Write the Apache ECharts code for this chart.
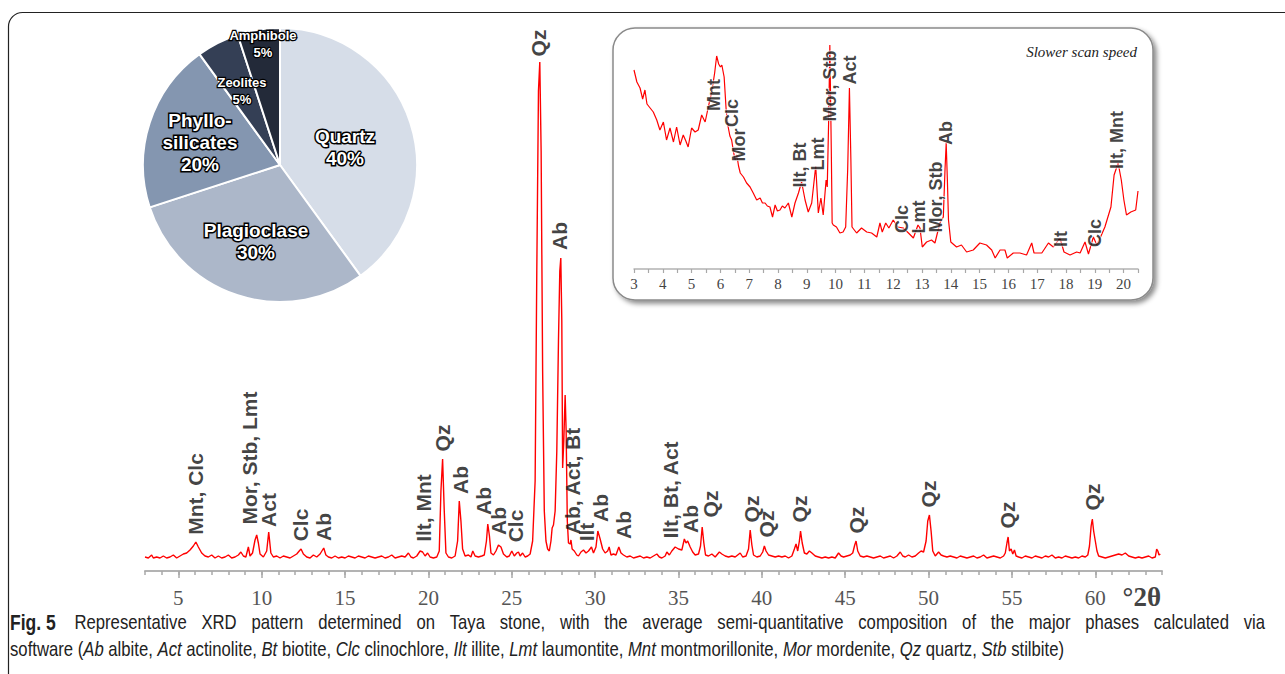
<!DOCTYPE html>
<html>
<head>
<meta charset="utf-8">
<script src="https://cdn.jsdelivr.net/npm/echarts@6/dist/echarts.min.js"></script>
<style>
html,body{margin:0;padding:0;background:#fff;}
#c{width:1285px;height:674px;}
</style>
</head>
<body>
<div id="c"></div>
<script>
// ---------------- DATA ----------------
const pieNames = ['Quartz', 'Plagioclase', 'Phyllo-\nsilicates', 'Zeolites', 'Amphibole'];
const pieValues = [40, 30, 20, 5, 5];

// main pattern: [2theta, intensity (a.u.)]
const mainPattern = [
[3.0,14],[3.2,13],[3.4,16],[3.5,13],[3.7,14],[3.9,13],[4.1,15],[4.3,13],[4.5,14],[4.7,16],[4.9,13],[5.1,15],[5.3,17],[5.5,18],[5.7,21],[5.9,25],[6.05,29],[6.2,24],[6.4,18],[6.6,15],[6.8,14],[7.0,16],[7.2,13],[7.4,15],[7.6,13],[7.8,14],[8.0,16],[8.2,13],[8.4,14],[8.6,16],[8.75,19],[8.9,15],[9.05,14],[9.2,24],[9.3,15],[9.45,18],[9.6,31],[9.7,36],[9.8,28],[9.9,17],[10.1,14],[10.3,20],[10.42,39],[10.55,18],[10.7,14],[10.9,15],[11.1,13],[11.3,15],[11.5,14],[11.7,13],[11.9,15],[12.1,17],[12.25,20],[12.36,22],[12.5,17],[12.7,14],[12.9,13],[13.1,16],[13.3,14],[13.5,17],[13.72,23],[13.85,16],[14.0,14],[14.2,13],[14.4,15],[14.6,13],[14.8,14],[15.0,13],[15.2,15],[15.4,14],[15.6,13],[15.8,15],[16.0,14],[16.2,13],[16.4,15],[16.6,14],[16.8,13],[17.0,14],[17.2,15],[17.4,13],[17.6,14],[17.8,16],[18.0,13],[18.2,14],[18.4,15],[18.6,14],[18.8,18],[18.95,14],[19.1,13],[19.3,15],[19.5,20],[19.65,19],[19.8,15],[19.95,18],[20.1,14],[20.3,13],[20.5,14],[20.65,20],[20.75,80],[20.85,112],[20.95,60],[21.05,18],[21.2,14],[21.4,13],[21.6,15],[21.75,30],[21.85,70],[21.95,50],[22.05,22],[22.2,15],[22.4,16],[22.55,14],[22.66,20],[22.8,15],[23.0,14],[23.2,15],[23.35,16],[23.48,30],[23.56,47],[23.66,35],[23.75,18],[23.9,16],[24.05,20],[24.2,26],[24.35,24],[24.5,17],[24.7,14],[24.85,15],[25.0,20],[25.15,15],[25.3,18],[25.4,19],[25.5,15],[25.65,18],[25.8,14],[25.95,15],[26.1,17],[26.25,30],[26.4,90],[26.5,300],[26.6,480],[26.68,509],[26.76,420],[26.85,200],[26.95,60],[27.05,30],[27.15,22],[27.25,20],[27.35,30],[27.42,43],[27.5,46],[27.6,60],[27.7,120],[27.8,230],[27.88,300],[27.94,313],[28.0,250],[28.05,103],[28.12,130],[28.2,176],[28.26,140],[28.33,50],[28.4,28],[28.5,27],[28.55,31],[28.62,22],[28.75,20],[28.9,16],[29.0,15],[29.15,19],[29.3,21],[29.45,18],[29.6,20],[29.78,24],[29.9,18],[30.05,24],[30.16,40],[30.3,32],[30.45,22],[30.6,18],[30.75,20],[30.84,24],[30.95,16],[31.1,17],[31.25,16],[31.42,24],[31.55,18],[31.7,16],[31.9,14],[32.1,15],[32.3,13],[32.5,14],[32.7,15],[32.9,13],[33.1,14],[33.3,13],[33.5,15],[33.7,17],[33.85,14],[34.0,13],[34.2,15],[34.3,19],[34.45,16],[34.6,20],[34.8,24],[35.0,22],[35.2,21],[35.35,32],[35.45,28],[35.55,30],[35.7,24],[35.85,19],[36.0,16],[36.2,17],[36.32,25],[36.42,44],[36.52,28],[36.62,16],[36.8,15],[37.0,17],[37.2,14],[37.45,19],[37.6,17],[37.8,15],[38.0,14],[38.2,15],[38.4,14],[38.7,18],[38.85,14],[39.05,15],[39.2,22],[39.3,41],[39.4,26],[39.5,16],[39.7,14],[39.9,15],[40.05,19],[40.15,25],[40.25,20],[40.4,16],[40.6,15],[40.8,14],[41.0,15],[41.2,14],[41.4,15],[41.6,13],[41.8,15],[41.95,22],[42.05,27],[42.15,20],[42.25,30],[42.32,40],[42.42,28],[42.55,18],[42.7,17],[42.85,20],[43.0,18],[43.2,15],[43.4,14],[43.6,13],[43.8,14],[44.0,13],[44.2,14],[44.4,13],[44.6,18],[44.75,15],[44.9,14],[45.1,15],[45.3,16],[45.45,18],[45.57,26],[45.65,30],[45.75,20],[45.9,15],[46.1,14],[46.3,15],[46.5,14],[46.7,13],[46.9,14],[47.1,15],[47.3,13],[47.5,14],[47.7,15],[47.9,13],[48.1,15],[48.3,19],[48.45,15],[48.6,14],[48.8,16],[49.0,14],[49.2,15],[49.4,18],[49.55,20],[49.7,19],[49.85,30],[49.95,50],[50.05,56],[50.15,40],[50.25,20],[50.4,15],[50.6,19],[50.75,16],[50.9,15],[51.1,14],[51.3,15],[51.5,14],[51.7,13],[51.9,15],[52.1,14],[52.3,13],[52.5,14],[52.7,15],[52.9,13],[53.1,14],[53.3,16],[53.5,13],[53.7,14],[53.9,15],[54.1,14],[54.3,13],[54.5,15],[54.6,18],[54.7,28],[54.77,34],[54.85,20],[54.95,22],[55.05,17],[55.15,21],[55.25,15],[55.4,14],[55.6,13],[55.8,15],[56.0,14],[56.2,13],[56.4,15],[56.6,14],[56.8,13],[57.0,15],[57.2,14],[57.4,16],[57.6,13],[57.8,14],[58.0,13],[58.2,15],[58.4,14],[58.6,13],[58.8,14],[59.0,13],[59.2,15],[59.4,14],[59.55,16],[59.65,25],[59.75,45],[59.82,52],[59.9,40],[60.0,30],[60.1,20],[60.2,15],[60.4,14],[60.6,13],[60.8,14],[61.0,15],[61.2,16],[61.4,17],[61.6,16],[61.8,18],[62.0,15],[62.2,14],[62.4,13],[62.6,14],[62.8,13],[63.0,14],[63.2,15],[63.4,13],[63.6,14],[63.68,22],[63.75,20],[63.82,16],[63.9,17]
];

// inset pattern (slower scan speed): [2theta, intensity (a.u.)]
const insetPattern = [
[3.0,199],[3.1,187],[3.21,181],[3.3,170],[3.38,179],[3.45,165],[3.56,161],[3.67,157],[3.79,149],[3.9,139],[4.02,147],[4.13,129],[4.25,141],[4.37,127],[4.48,142],[4.6,124],[4.71,134],[4.8,128],[4.88,122],[5.0,141],[5.12,137],[5.23,139],[5.35,154],[5.47,147],[5.58,162],[5.7,177],[5.8,196],[5.87,213],[5.94,205],[6.0,202],[6.05,204],[6.13,192],[6.2,159],[6.27,142],[6.33,133],[6.39,129],[6.45,118],[6.51,109],[6.57,114],[6.63,103],[6.69,96],[6.8,92],[6.91,86],[7.03,82],[7.14,76],[7.26,69],[7.38,71],[7.46,66],[7.55,66],[7.63,63],[7.72,62],[7.81,52],[7.9,64],[7.98,58],[8.07,59],[8.15,63],[8.24,61],[8.36,66],[8.48,52],[8.59,66],[8.71,76],[8.82,87],[8.94,69],[9.05,57],[9.17,66],[9.31,103],[9.4,56],[9.49,71],[9.57,54],[9.67,89],[9.71,82],[9.76,150],[9.8,224],[9.85,120],[9.88,46],[9.92,44],[10.03,42],[10.15,36],[10.26,37],[10.35,42],[10.42,100],[10.48,181],[10.53,110],[10.57,42],[10.73,36],[10.9,41],[11.08,37],[11.25,36],[11.43,32],[11.54,46],[11.62,37],[11.74,46],[11.85,41],[12.0,49],[12.16,42],[12.35,41],[12.53,36],[12.7,31],[12.86,44],[12.93,41],[13.01,22],[13.16,27],[13.33,29],[13.45,26],[13.62,46],[13.74,52],[13.8,100],[13.84,126],[13.88,90],[13.92,49],[14.0,27],[14.2,22],[14.37,24],[14.55,17],[14.78,19],[15.01,26],[15.24,24],[15.42,19],[15.54,11],[15.71,19],[15.88,19],[15.96,11],[16.17,16],[16.4,16],[16.63,14],[16.81,26],[16.89,16],[17.16,16],[17.39,26],[17.56,22],[17.79,31],[17.93,17],[18.14,14],[18.37,17],[18.49,16],[18.66,27],[18.78,15],[18.95,32],[19.07,24],[19.2,32],[19.35,42],[19.56,62],[19.67,94],[19.81,106],[19.92,89],[20.01,69],[20.1,54],[20.25,57],[20.42,59],[20.5,78]
];

// peak annotations: [2theta, intensity at label centre, text]
const mainPeakLabels = [
[6.02,77,'Mnt, Clc'],[9.26,113,'Mor, Stb, Lmt'],[10.4,61,'Act'],[12.32,46,'Clc'],[13.7,44,'Ab'],
[19.68,63,'Ilt, Mnt'],[20.82,133,'Qz'],[21.92,91,'Ab'],[23.32,70,'Ab'],[24.22,50,'Ab'],[25.22,45,'Clc'],
[26.6,528,'Qz'],[27.86,335,'Ab'],[28.62,90,'Ab, Act, Bt'],[29.48,39,'Ilt'],[30.32,63,'Ab'],[31.68,46,'Ab'],
[34.5,81,'Ilt, Bt, Act'],[35.7,52,'Ab'],[36.9,67,'Qz'],[39.36,62,'Qz'],[40.28,47,'Qz'],[42.28,62,'Qz'],
[45.7,51,'Qz'],[50.0,77,'Qz'],[54.75,56,'Qz'],[59.82,74,'Qz']
];
const insetPeakLabels = [
[5.78,174,'Mnt'],[6.40,156,'Clc'],[6.65,124,'Mor'],[8.76,104,'Ilt, Bt'],[9.39,115,'Lmt'],
[9.81,183,'Mor, Stb'],[10.5,199,'Act'],[12.31,50,'Clc'],[12.9,52,'Lmt'],[13.49,72,'Mor, Stb'],
[13.83,136,'Ab'],[17.83,30,'Ilt'],[19.01,36,'Clc'],[19.77,129,'Ilt, Mnt']
];

// tick values
const mainMajorTicks = [5,10,15,20,25,30,35,40,45,50,55,60];
const mainMinorTicks = [3,4,5,6,7,8,9,10,11,12,13,14,15,16,17,18,19,20,21,22,23,24,25,26,27,28,29,30,31,32,33,34,35,36,37,38,39,40,41,42,43,44,45,46,47,48,49,50,51,52,53,54,55,56,57,58,59,60,61,62,63,64];
const insetLabelTicks = [3,4,5,6,7,8,9,10,11,12,13,14,15,16,17,18,19,20];
const insetMinorTicks = [3,3.5,4,4.5,5,5.5,6,6.5,7,7.5,8,8.5,9,9.5,10,10.5,11,11.5,12,12.5,13,13.5,14,14.5,15,15.5,16,16.5,17,17.5,18,18.5,19,19.5,20,20.5];

const captionBold = 'Fig. 5';
const captionLine1 = 'Representative XRD pattern determined on Taya stone, with the average semi-quantitative composition of the major phases calculated via';
const captionLine2 = 'software ({i|Ab} albite, {i|Act} actinolite, {i|Bt} biotite, {i|Clc} clinochlore, {i|Ilt} illite, {i|Lmt} laumontite, {i|Mnt} montmorillonite, {i|Mor} mordenite, {i|Qz} quartz, {i|Stb} stilbite)';

// ---------------- LAYOUT / STYLE ----------------
const pieLabelPos = [[345,147],[256,241],[200,142],[242,91],[263,44]];
const pieColors = ['#d6dde8','#acb7c9','#8496b0','#343f55','#232a39'];
const serif = '"Liberation Serif","DejaVu Serif",serif';
const sans = '"Liberation Sans",Arial,sans-serif';
const capFont = '"Liberation Sans",Arial,sans-serif';
const capSize = 21;
const capLeft = 10, capLine1Right = 1265, capLine2Right = 1064;

// caption geometry: condense glyphs so that the (last, unjustified) line 2 fits,
// and justify line 1 across the full width
const mctx = document.createElement('canvas').getContext('2d');
mctx.font = capSize + 'px ' + capFont;
const w2 = mctx.measureText(captionLine2.replace(/\{i\|([^}]*)\}/g, '$1')).width;
const capScale = (capLine2Right - capLeft) / w2;
const line1Words = [captionBold].concat(captionLine1.split(' '));
const line1Widths = line1Words.map((w, i) => {
  mctx.font = (i === 0 ? 'bold ' + (capSize + 1) : capSize) + 'px ' + capFont;
  return mctx.measureText(w).width * capScale;
});
const firstGapExtra = 4;
const line1Total = line1Widths.reduce((a, b) => a + b, 0) + firstGapExtra;
const gap1 = (capLine1Right - capLeft - line1Total) / (line1Words.length - 1);
const line1Elements = [];
let cx = capLeft;
line1Words.forEach((w, i) => {
  line1Elements.push({type:'text', z:5, x:cx, y:622, originX:0, originY:0, scaleX:capScale,
    style:{text:w, fill:'#222', fontFamily:capFont, fontSize: i === 0 ? capSize + 1 : capSize,
      fontWeight: i === 0 ? 'bold' : 'normal', textVerticalAlign:'middle'}});
  cx += line1Widths[i] + gap1 + (i === 0 ? firstGapExtra : 0);
});

const chart = echarts.init(document.getElementById('c'), null, {renderer:'svg'});

const option = {
  animation: false,
  backgroundColor: '#fff',
  grid: [
    {left:145, top:51, width:1017, height:520},
    {left:634, top:39, width:504, height:230}
  ],
  xAxis: [
    {type:'value', gridIndex:0, min:3, max:64, position:'bottom',
     axisLine:{show:true, lineStyle:{color:'#b3b3b3', width:2}},
     axisTick:{show:true, length:7, customValues:mainMajorTicks, lineStyle:{color:'#a8a8a8', width:1.5}},
     axisLabel:{show:true, customValues:mainMajorTicks, margin:16, fontFamily:serif, fontSize:21, color:'#555'},
     splitLine:{show:false}},
    {type:'value', gridIndex:0, min:3, max:64, position:'bottom',
     axisLine:{show:false},
     axisTick:{show:true, length:4, customValues:mainMinorTicks, lineStyle:{color:'#a8a8a8', width:1.5}},
     axisLabel:{show:false}, splitLine:{show:false}},
    {type:'value', gridIndex:1, min:3, max:20.5, position:'bottom',
     axisLine:{show:true, lineStyle:{color:'#b3b3b3', width:1.5}},
     axisTick:{show:true, length:4, customValues:insetMinorTicks, lineStyle:{color:'#a8a8a8', width:1.2}},
     axisLabel:{show:true, customValues:insetLabelTicks, margin:7, fontFamily:serif, fontSize:15, color:'#444'},
     splitLine:{show:false}}
  ],
  yAxis: [
    {type:'value', gridIndex:0, min:0, max:520, show:false},
    {type:'value', gridIndex:1, min:0, max:230, show:false}
  ],
  graphic: [
    {type:'rect', z:0, shape:{x:8.5, y:12.5, width:1400, height:800, r:14},
     style:{fill:'none', stroke:'#222', lineWidth:1.2}},
    {type:'rect', z:0, shape:{x:613, y:28, width:540, height:272, r:22},
     style:{fill:'#fff', stroke:'#8a8a8a', lineWidth:1.5, shadowBlur:5, shadowOffsetX:3, shadowOffsetY:3, shadowColor:'rgba(0,0,0,0.45)'}},
    {type:'text', z:5, x:1137, y:52,
     style:{text:'Slower scan speed', fill:'#222', font:'italic 15px ' + serif, textAlign:'right', textVerticalAlign:'middle'}},
    {type:'text', z:5, x:1161, y:597,
     style:{text:'°2θ', fill:'#444', font:'bold 27px ' + serif, textAlign:'right', textVerticalAlign:'middle'}},
    {type:'text', z:5, x:capLeft, y:649, originX:0, originY:0, scaleX:capScale,
     style:{text:captionLine2,
       fill:'#222', fontFamily:capFont, fontSize:capSize, textVerticalAlign:'middle',
       rich:{i:{fontFamily:capFont, fontStyle:'italic', fontSize:capSize, fill:'#222'}}}}
  ].concat(line1Elements),
  series: [
    {type:'line', name:'XRD', xAxisIndex:0, yAxisIndex:0, data:mainPattern, showSymbol:false, symbol:'none',
     lineStyle:{color:'#ff0000', width:1.4}, z:3, silent:true},
    {type:'line', name:'XRD slow', xAxisIndex:2, yAxisIndex:1, data:insetPattern, showSymbol:false, symbol:'none',
     lineStyle:{color:'#ff0000', width:1.2}, z:3, silent:true},
    {type:'scatter', name:'main labels', xAxisIndex:0, yAxisIndex:0, data:mainPeakLabels, symbolSize:1, clip:false,
     itemStyle:{color:'rgba(0,0,0,0)'}, z:4, silent:true,
     label:{show:true, position:'inside', rotate:90, formatter:p=>p.value[2], color:'#111',
       fontFamily:sans, fontWeight:'bold', fontSize:21}},
    {type:'scatter', name:'inset labels', xAxisIndex:2, yAxisIndex:1, data:insetPeakLabels, symbolSize:1, clip:false,
     itemStyle:{color:'rgba(0,0,0,0)'}, z:4, silent:true,
     label:{show:true, position:'inside', rotate:90, formatter:p=>p.value[2], color:'#111',
       fontFamily:sans, fontWeight:'bold', fontSize:18, textBorderColor:'#fff', textBorderWidth:1.5}},
    {type:'pie', name:'composition', center:[280,165], radius:137, startAngle:90, clockwise:true, z:4,
     silent:true,
     data: pieNames.map((n,i)=>({name:n, value:pieValues[i], itemStyle:{color:pieColors[i]},
       label: i>=3 ? {fontSize:13, lineHeight:17, textBorderWidth:2.5} : {fontSize:19, lineHeight:22}})),
     itemStyle:{borderColor:'#fff', borderWidth:2},
     label:{show:true, position:'inside', formatter:'{b}\n{c}%', color:'#fff', fontFamily:sans, fontWeight:'bold',
       textBorderColor:'#000', textBorderWidth:3, align:'center'},
     labelLine:{show:false},
     labelLayout: function(params){
       const p = pieLabelPos[params.dataIndex];
       return {x:p[0], y:p[1], align:'center', verticalAlign:'middle'};
     }}
  ]
};
chart.setOption(option);
</script>
</body>
</html>
